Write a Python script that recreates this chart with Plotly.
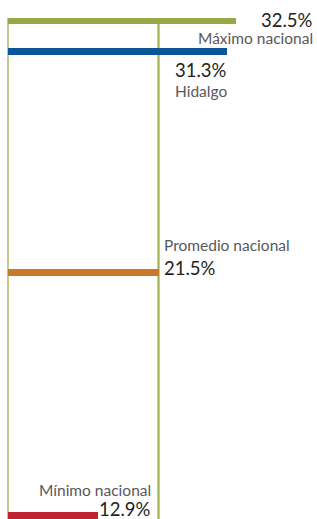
import plotly.graph_objects as go

# ---- data ----
etiquetas = ["Máximo nacional", "Hidalgo", "Promedio nacional", "Mínimo nacional"]
valores = [32.5, 31.3, 21.5, 12.9]
textos_valor = ["32.5%", "31.3%", "21.5%", "12.9%"]
colores = ["#97a847", "#0a5699", "#c8792c", "#c0232f"]

# ---- layout (not data) ----
W, H = 317, 519
PX_POR_UNIDAD = 7.0
X0_PX = 8
fila_y = [21, 51.7, 272.4, 515.6]  # vertical slot of each bar, px from top
FONT = "Lato, Roboto, sans-serif"
C_VAL = "#231f20"
C_LAB = "#58595b"
LINEA = "#a0b04e"
S_VAL = 18.5
S_LAB = 15.5

x_min = -X0_PX / PX_POR_UNIDAD
x_max = (W - X0_PX) / PX_POR_UNIDAD

def px_to_x(px):
    return (px - X0_PX) / PX_POR_UNIDAD

fig = go.Figure()
fig.add_trace(go.Bar(
    x=valores, y=fila_y, base=0, orientation="h",
    width=[6.2, 6.7, 6.7, 6.7], marker=dict(color=colores, line=dict(width=0)),
    hoverinfo="skip", showlegend=False,
))

promedio = valores[2]
fig.add_shape(type="line", x0=0, x1=0, y0=fila_y[0] - 3, y1=H, xref="x", yref="y",
              line=dict(color=LINEA, width=1.3), layer="below")
fig.add_shape(type="line", x0=promedio, x1=promedio, y0=fila_y[0], y1=H, xref="x", yref="y",
              line=dict(color=LINEA, width=2.2), layer="below")

def ann(text, xpx, ypx, anchor, size, color):
    fig.add_annotation(text=text, x=px_to_x(xpx), y=ypx, xref="x", yref="y",
                       xanchor=anchor, yanchor="middle", showarrow=False,
                       font=dict(family=FONT, size=size, color=color))

ann(textos_valor[0], 315, 19.5, "right", S_VAL, C_VAL)
ann(etiquetas[0], 315, 38, "right", S_LAB, C_LAB)
ann(textos_valor[1], 229, 70, "right", S_VAL, C_VAL)
ann(etiquetas[1], 229, 91, "right", S_LAB, C_LAB)
ann(etiquetas[2], 162, 245, "left", S_LAB, C_LAB)
ann(textos_valor[2], 162, 267.5, "left", S_VAL, C_VAL)
ann(etiquetas[3], 153, 490, "right", S_LAB, C_LAB)
ann(textos_valor[3], 153, 508.5, "right", S_VAL, C_VAL)

fig.update_layout(
    width=W, height=H, margin=dict(l=0, r=0, t=0, b=0),
    paper_bgcolor="white", plot_bgcolor="white",
    xaxis=dict(range=[x_min, x_max], visible=False, fixedrange=True),
    yaxis=dict(range=[H, 0], visible=False, fixedrange=True),
    bargap=0,
)
fig.write_html("out.html", config={"displayModeBar": False},
               post_script="document.body.style.margin='0';")
